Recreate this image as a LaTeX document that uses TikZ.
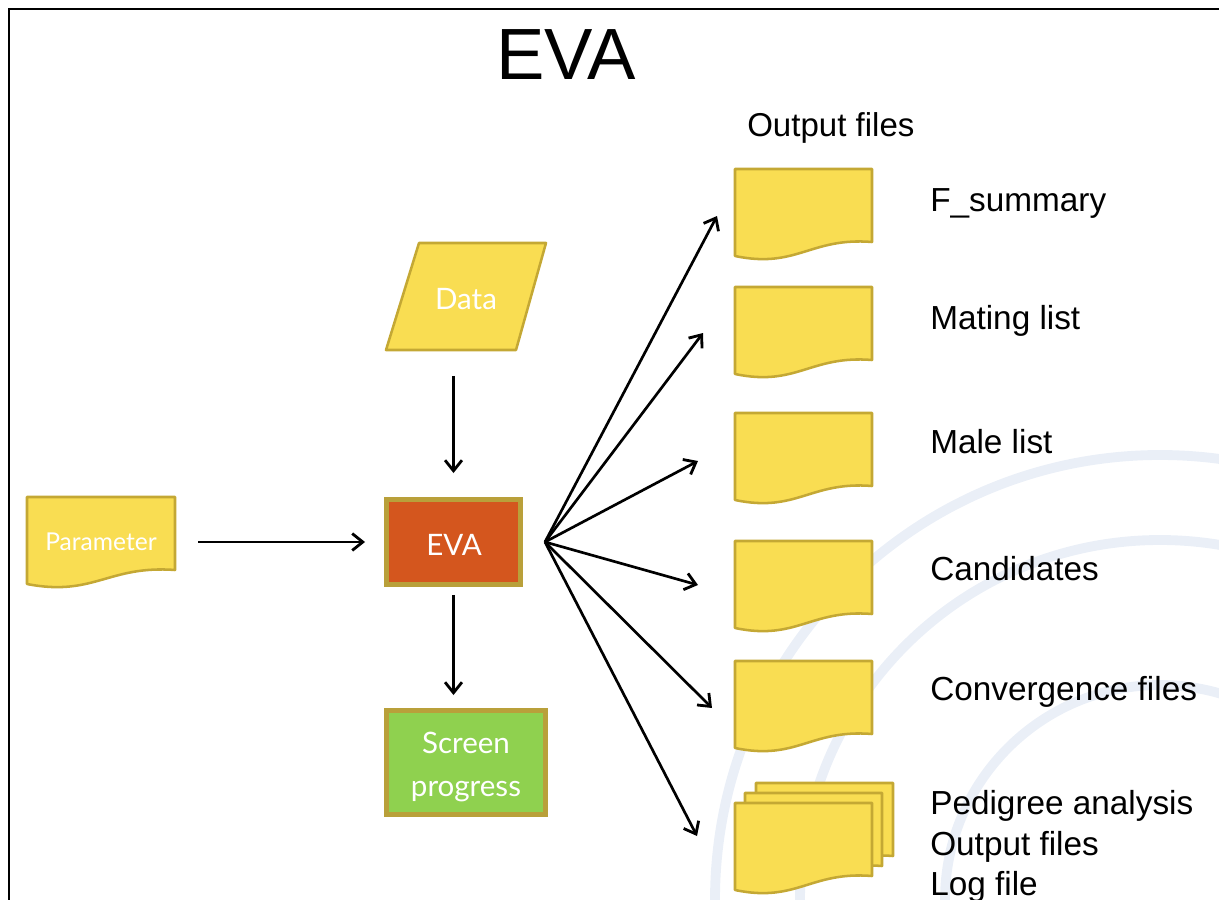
\documentclass[tikz,border=0pt]{standalone}
\usepackage{fontspec}
\setmainfont{Liberation Sans}
\newfontfamily\boxfont{Lato}
\usetikzlibrary{arrows.meta,calc}

\definecolor{docyellow}{RGB}{249,221,82}
\definecolor{docedge}{RGB}{196,168,52}
\definecolor{evaorange}{RGB}{212,86,30}
\definecolor{screengreen}{RGB}{143,209,79}
\definecolor{boxedge}{RGB}{185,160,58}
\definecolor{ringblue}{RGB}{234,239,247}

\tikzset{
  docpath/.style={fill=docyellow, draw=docedge, line width=1.8pt, line join=round},
  boxtext/.style={font=\boxfont, text=white, align=center, inner sep=0pt},
  filelabel/.style={anchor=base west, inner sep=0pt, font=\fontsize{23.7}{28}\selectfont},
  procbox/.style={draw=boxedge, line width=3.5pt, inner sep=0pt},
  arr/.style={-{Straight Barb[length=7.5pt,width=12pt,line width=2pt]}, line width=1.9pt},
  ring/.style={draw=ringblue, line width=7pt},
}

% file symbol with a wavy lower edge; #1,#2 = top left corner, #3 = width
\newcommand\filedoc[3]{%
  \path[docpath] (#1,#2) -- ({#1+#3},#2) -- ({#1+#3},{#2+73})
    .. controls ({#1+0.55*#3},{#2+68}) and ({#1+0.45*#3},{#2+100}) .. (#1,{#2+87}) -- cycle;}

\begin{document}
\begin{tikzpicture}[x=0.025cm, y=-0.025cm]
\useasboundingbox (0,0) rectangle (1219,900);

% faint rings in the background
\begin{scope}
  \clip (9,9) rectangle (1219,900);
  \draw[ring] (1160,900) circle (445);
  \draw[ring] (1160,900) circle (360);
  \draw[ring] (1160,900) circle (215);
\end{scope}

% frame
\draw[line width=2pt] (9,900) -- (9,9) -- (1219,9);

% title
\node[anchor=base, inner sep=0pt, font=\fontsize{51.6}{60}\selectfont] (title) at (566,80) {EVA};

% inputs
\filedoc{27}{497}{148}
\node[boxtext, minimum width=3.7cm, minimum height=2.2cm, font=\boxfont\fontsize{17.5}{20}\selectfont] (param) at (101,542) {Parameter};

\path[docpath] (419,243) -- (546,243) -- (516,350) -- (386,350) -- cycle;
\node[boxtext, minimum width=3.2cm, minimum height=2.675cm, font=\boxfont\fontsize{21}{25}\selectfont] (data) at (466,299) {Data};

% program and screen output
\node[procbox, fill=evaorange, minimum width=3.35cm, minimum height=2.125cm] (eva) at (453.5,542) {};
\node[boxtext, font=\boxfont\fontsize{21}{25}\selectfont] (evalab) at (454,545) {EVA};
\node[procbox, fill=screengreen, minimum width=3.975cm, minimum height=2.6cm] (screen) at (466,762.5) {};
\node[boxtext, font=\boxfont\fontsize{21}{29.9}\selectfont] (screenlab) at (466,767) {Screen\\progress};

\draw[arr, shorten <=0.575cm, shorten >=0.475cm] (param.east) -- (eva.west);
\draw[arr, shorten <=0.575cm, shorten >=0.6cm] (data.south -| eva.north) -- (eva.north);
\draw[arr, shorten <=0.2cm, shorten >=0.325cm] (eva.south) -- (eva.south |- screen.north);

% output files
\node[anchor=base west, inner sep=0pt, font=\fontsize{23.5}{28}\selectfont] (outhead) at (747,137) {Output files};

\filedoc{735}{169}{137}
\filedoc{735}{287}{137}
\filedoc{735}{413}{137}
\filedoc{735}{541}{137}
\filedoc{735}{661}{137}
\filedoc{756}{783}{137}
\filedoc{745}{793}{137}
\filedoc{735}{803}{137}

\node[filelabel] (lab1) at (930,211) {F\_summary};
\node[filelabel] (lab2) at (930,329) {Mating list};
\node[filelabel] (lab3) at (930,453) {Male list};
\node[filelabel] (lab4) at (930,580) {Candidates};
\node[filelabel] (lab5) at (930,700) {Convergence files};
\node[filelabel] (lab6) at (930,814) {Pedigree analysis};
\node[filelabel] (lab7) at (930,855) {Output files};
\node[filelabel] (lab8) at (930,895) {Log file};

% fan of result arrows
\coordinate (fan) at ($(eva.east)+(22,0)$);
\coordinate (t1) at (717,216);
\coordinate (t2) at (703,333);
\coordinate (t3) at (698,461);
\coordinate (t4) at (698,585);
\coordinate (t5) at (712,708);
\coordinate (t6) at (697,836);
\foreach \t in {t1,t2,t3,t4,t5,t6}
  \draw[arr, line join=round] (fan) -- (\t);
\end{tikzpicture}
\end{document}
